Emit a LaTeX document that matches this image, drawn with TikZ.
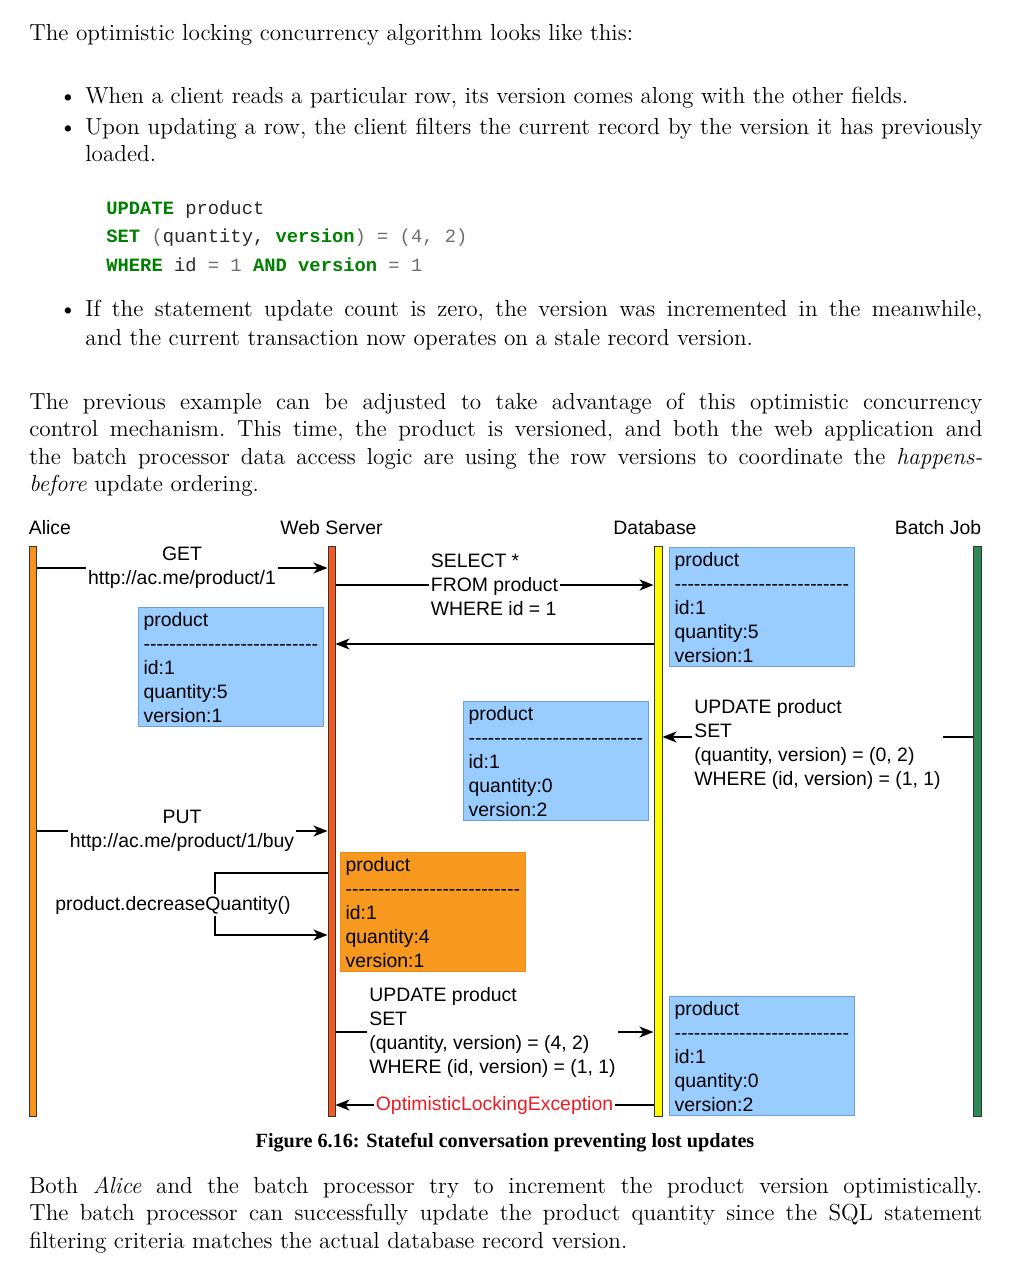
\documentclass[tikz,border=0pt]{standalone}
\usepackage{fontspec}
\newfontfamily\diagfont{Liberation Sans}
\newfontfamily\codefont{Liberation Mono}
\newfontfamily\capfont{Liberation Serif}
\usetikzlibrary{
  arrows.meta,
  calc,
  positioning,
}
\definecolor{alicebar}{RGB}{247,148,29}
\definecolor{webbar}{RGB}{241,90,34}
\definecolor{dbbar}{RGB}{255,255,0}
\definecolor{batchbar}{RGB}{46,139,87}
\definecolor{boxblue}{RGB}{153,204,255}
\definecolor{boxedge}{RGB}{110,160,210}
\definecolor{boxorange}{RGB}{247,153,31}
\definecolor{orangeedge}{RGB}{232,140,30}
\definecolor{kwgreen}{RGB}{0,128,0}
\definecolor{codegray}{RGB}{110,110,110}
\definecolor{codetext}{RGB}{40,40,40}
\definecolor{errred}{RGB}{237,28,36}
\newcommand\bodysize{\fontsize{11.6}{14}\selectfont\frenchspacing}
\newcommand\diagsize{\fontsize{9.7}{12}\selectfont}
\newcommand\codesize{\fontsize{9.4}{14}\selectfont}
\newcommand\capsize{\fontsize{10.1}{12}\selectfont}
\newcommand\kw[1]{{\color{kwgreen}\bfseries #1}}
\newcommand\op[1]{{\color{codegray}#1}}
\newcommand\dashrow{\foreach \k in {1,...,27}{\mbox{-}}}
\tikzset{
  >={Stealth[length=7pt,width=5.5pt,inset=2pt]},
  bodytext/.style={anchor=base west, inner sep=0pt, font=\bodysize},
  codeline/.style={anchor=base west, inner sep=0pt, font=\codefont\codesize, text=codetext},
  lifeline/.style={draw=black!80, line width=0.5pt, minimum width=3.5pt,
    minimum height=285pt, inner sep=0pt},
  actor/.style={anchor=base, inner sep=0pt, font=\diagfont\diagsize},
  msg/.style={->, line width=0.6pt},
  msglabel/.style={fill=white, inner sep=1pt, font=\diagfont\diagsize, align=center},
  prodbox/.style={anchor=north west, fill=boxblue, draw=boxedge, line width=0.6pt,
    text width=87.5pt, inner xsep=2.5pt, inner ysep=0.5pt, minimum height=59.5pt,
    align=left, font=\diagfont\diagsize},
}
\begin{document}
\begin{tikzpicture}[x=0.5pt, y=-0.5pt]
  \useasboundingbox [fill=white] (0, 0) rectangle (1014, 1262);

  % text above the figure
  \node [bodytext] (intro) at (29, 41)
    {The optimistic locking concurrency algorithm looks like this:};
  \foreach \y in {104, 135, 317}
  {
    \node [anchor=base, inner sep=0pt, font=\bodysize] at (68, \y) {\textbullet};
  }
  \node [bodytext] at (85, 104)
    {When a client reads a particular row, its version comes along with the other fields.};
  \node [bodytext] at (85, 135)
    {\makebox[448.5pt][s]{Upon updating a row, the client filters the current record by the version it has previously}};
  \node [bodytext] at (85, 162) {loaded.};
  \node [codeline] at (106, 215) {\kw{UPDATE} product};
  \node [codeline] at (106, 243) {\kw{SET} \op{(}quantity, \kw{version}\op{) = (4, 2)}};
  \node [codeline] at (106, 272) {\kw{WHERE} id \op{= 1} \kw{AND} \kw{version} \op{= 1}};
  \node [bodytext] at (85, 317)
    {\makebox[448.5pt][s]{If the statement update count is zero, the version was incremented in the meanwhile,}};
  \node [bodytext] at (85, 345)
    {and the current transaction now operates on a stale record version.};
  \node [bodytext] at (29, 409)
    {\makebox[476.5pt][s]{The previous example can be adjusted to take advantage of this optimistic concurrency}};
  \node [bodytext] at (29, 436.5)
    {\makebox[476.5pt][s]{control mechanism. This time, the product is versioned, and both the web application and}};
  \node [bodytext] at (29, 464)
    {\makebox[476.5pt][s]{the batch processor data access logic are using the row versions to coordinate the \emph{happens-}}};
  \node [bodytext] at (29, 491.5) {\emph{before} update ordering.};

  % lifelines
  \node [lifeline, fill=alicebar] (alice) at (32.5, 831) {};
  \node [lifeline, fill=webbar] (web) at (331.5, 831) {};
  \node [lifeline, fill=dbbar, minimum width=4pt] (db) at (658, 831) {};
  \node [lifeline, fill=batchbar, minimum width=4pt] (batch) at (977, 831) {};
  \node [actor, anchor=base west] at (alice.north west |- 0, 534) {Alice};
  \node [actor] at (web.north |- 0, 534) {Web Server};
  \node [actor, xshift=-1.5pt] at (db.north |- 0, 534) {Database};
  \node [actor, anchor=base east] at (batch.north east |- 0, 534) {Batch Job};

  % messages
  \draw [msg] (alice.east |- 0, 568) -- (web.west |- 0, 568)
    node [msglabel, midway] {GET\\http://ac.me/product/1};
  \draw [msg] (web.east |- 0, 585) -- (db.west |- 0, 585)
    node [msglabel, midway, align=left] {SELECT *\\FROM product\\WHERE id = 1};
  \draw [msg] (db.west |- 0, 644) -- (web.east |- 0, 644);
  \draw [msg] (batch.west |- 0, 737) -- (db.east |- 0, 737)
    node [msglabel, midway, align=left, yshift=-3.5pt]
    {UPDATE product\\SET\\(quantity, version) = (0, 2)\\WHERE (id, version) = (1, 1)};
  \draw [msg] (alice.east |- 0, 831) -- (web.west |- 0, 831)
    node [msglabel, midway] {PUT\\http://ac.me/product/1/buy};
  \draw [msg] (web.west |- 0, 873) -- (215, 873) -- (215, 935)
    node [msglabel, midway, xshift=-21pt, yshift=-0.5pt] {product.decreaseQuantity()}
    -- (web.west |- 0, 935);
  \draw [msg] (web.east |- 0, 1032) -- (db.west |- 0, 1032)
    node [msglabel, midway, align=left, xshift=-1pt]
    {UPDATE product\\SET\\(quantity, version) = (4, 2)\\WHERE (id, version) = (1, 1)};
  \draw [msg] (db.west |- 0, 1105) -- (web.east |- 0, 1105)
    node [msglabel, midway, text=errred] {OptimisticLockingException};

  % product rows
  \node [prodbox] (dbrow) at (669, 547)
    {product\\\dashrow\\id:1\\quantity:5\\version:1};
  \node [prodbox] (webrow) at (138, 607)
    {product\\\dashrow\\id:1\\quantity:5\\version:1};
  \node [prodbox] (batchrow) at (463, 701)
    {product\\\dashrow\\id:1\\quantity:0\\version:2};
  \node [prodbox, fill=boxorange, draw=orangeedge] (aliceedit) at (340, 852)
    {product\\\dashrow\\id:1\\quantity:4\\version:1};
  \node [prodbox] (finalrow) at (669, 996)
    {product\\\dashrow\\id:1\\quantity:0\\version:2};

  \node [anchor=base, inner sep=0pt, font=\capfont\capsize\bfseries] (caption) at (505, 1147)
    {Figure 6.16: Stateful conversation preventing lost updates};

  % text below the figure
  \node [bodytext] at (29, 1193)
    {\makebox[476.5pt][s]{Both \emph{Alice} and the batch processor try to increment the product version optimistically.}};
  \node [bodytext] at (29, 1220)
    {\makebox[476.5pt][s]{The batch processor can successfully update the product quantity since the SQL statement}};
  \node [bodytext] at (29, 1248)
    {filtering criteria matches the actual database record version.};
\end{tikzpicture}
\end{document}
